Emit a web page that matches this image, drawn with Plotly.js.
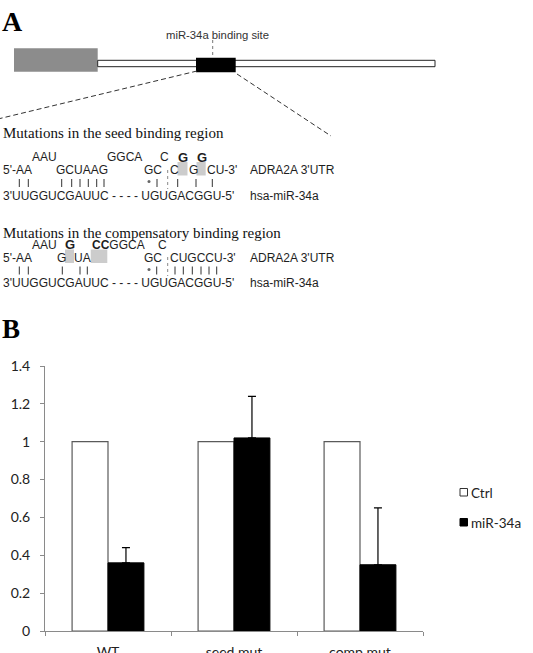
<!DOCTYPE html>
<html>
<head>
<meta charset="utf-8">
<script src="https://cdn.plot.ly/plotly-3.0.1.min.js"></script>
<style>
  html, body { margin: 0; padding: 0; background: #fff; }
  #fig { width: 533px; height: 653px; }
</style>
</head>
<body>
<div id="fig"></div>
<script>
// ---- Panel B data: relative luciferase activity ----
const categories = ['WT', 'seed mut', 'comp mut'];
const seriesNames = ['Ctrl', 'miR-34a'];
const ctrlValues = [1, 1, 1];
const mirValues = [0.36, 1.02, 0.35];
const mirErrors = [0.08, 0.22, 0.30];
const yTickValues = [0, 0.2, 0.4, 0.6, 0.8, 1, 1.2, 1.4];
const yTickLabels = ['0', '0.2', '0.4', '0.6', '0.8', '1', '1.2', '1.4'];

// ---- Panel A text: duplex of ADRA2A 3'UTR with hsa-miR-34a ----
const seedTitle = 'Mutations in the seed binding region';
const compTitle = 'Mutations in the compensatory binding region';
const siteLabel = 'miR-34a binding site';
const utrLabel = "ADRA2A 3'UTR";
const mirLabel = 'hsa-miR-34a';
const mirStrand = "3'UUGGUCGAUUC - - - - UGUGACGGU-5'";

// ---- page geometry ----
const W = 533, H = 653;
const M = { l: 45, r: 110, t: 366, b: 22 };
const PW = W - M.l - M.r, PH = H - M.t - M.b;
const px = x => (x - M.l) / PW;          // pixel column -> paper x
const py = y => (H - M.b - y) / PH;      // pixel row -> paper y

const SEQ_FONT = { family: 'Liberation Sans, Arial, sans-serif', size: 12, color: '#1e1e1e' };
const SERIF = 'Liberation Serif, Times New Roman, serif';
const CAL = 'Lato, Open Sans, sans-serif';

const annotations = [];
const shapes = [];

function label(text, x, y, font, anchor) {
  annotations.push({
    xref: 'paper', yref: 'paper', x: px(x), y: py(y),
    xanchor: anchor || 'left', yanchor: 'middle',
    showarrow: false, borderpad: 0, borderwidth: 0,
    text: text, font: Object.assign({}, SEQ_FONT, font || {})
  });
}
function rect(x0, y0, x1, y1, fill, line) {
  shapes.push({
    type: 'rect', xref: 'paper', yref: 'paper',
    x0: px(x0), x1: px(x1), y0: py(y1), y1: py(y0),
    fillcolor: fill, line: line || { width: 0 }, layer: 'above'
  });
}
function seg(x0, y0, x1, y1, line) {
  shapes.push({
    type: 'line', xref: 'paper', yref: 'paper',
    x0: px(x0), x1: px(x1), y0: py(y0), y1: py(y1),
    line: line, layer: 'above'
  });
}
function pairBars(xs, y) {
  xs.forEach(x => seg(x, y - 4, x, y + 4, { color: '#333', width: 1 }));
}
function wobble(x, y) {
  shapes.push({
    type: 'circle', xref: 'paper', yref: 'paper',
    x0: px(x - 1.5), x1: px(x + 1.5), y0: py(y + 1.5), y1: py(y - 1.5),
    fillcolor: '#666', line: { width: 0 }, layer: 'above'
  });
}

// panel letters
label('<b>A</b>', 2, 22, { family: SERIF, size: 28, color: '#000' });
label('<b>B</b>', 2, 329, { family: SERIF, size: 27, color: '#000' });

// transcript scheme
rect(14, 48.3, 97.7, 71.7, '#8c8c8c');
rect(97.7, 60.3, 435, 66.7, '#fff', { color: '#222', width: 1 });
rect(196, 57.7, 235.7, 72.3, '#000');
seg(212.7, 40, 212.7, 57.7, { color: '#777', width: 1, dash: 'dot' });
label(siteLabel, 217, 34.5, { size: 11.3, color: '#333' }, 'center');
seg(197, 71, 0, 118.5, { color: '#333', width: 1, dash: '5px,3px' });
seg(237, 74, 331, 136, { color: '#333', width: 1, dash: '5px,3px' });

// seed-region mutant duplex
label(seedTitle, 2.7, 133, { family: SERIF, size: 15, color: '#111' });
rect(177.5, 162, 187.5, 175.5, '#cccccc');
rect(196.5, 162, 205.7, 175.5, '#cccccc');
label('AAU', 31.7, 156.5);
label('GGCA', 106.7, 156.5);
label('C', 160, 157);
label('<b>G</b>', 178, 157, { size: 13 });
label('<b>G</b>', 196.5, 157, { size: 13 });
label("5'-AA", 2.7, 169.5);
label('GCUAAG', 56, 169.5);
label('GC', 143.5, 169.5);
label('C', 170, 169.5);
label('G', 188.5, 169.5);
label("CU-3'", 207, 169.5);
label(utrLabel, 250, 169.5);
pairBars([19.3, 28.3, 61.7, 71.7, 80, 88.3, 96.7, 104, 157, 177.7, 196, 212.3], 183);
wobble(149, 181.5);
seg(167.7, 170, 167.7, 189, { color: '#888', width: 1, dash: 'dot' });
label(mirStrand, 2.7, 196);
label(mirLabel, 250, 196);

// compensatory-region mutant duplex
label(compTitle, 2.7, 233, { family: SERIF, size: 15, color: '#111' });
rect(65, 249.5, 74, 263, '#cccccc');
rect(90.7, 249.5, 107.3, 263, '#cccccc');
label('AAU', 31.7, 244.5);
label('<b>G</b>', 65, 244.5, { size: 13 });
label('<b>CC</b>GGCA', 91.7, 244.5);
label('C', 158, 244.5);
label("5'-AA", 2.7, 257.5);
label('G', 56.7, 257.5);
label('UA', 74, 257.5);
label('GC', 143.5, 257.5);
label("CUGCCU-3'", 169.5, 257.5);
label(utrLabel, 250, 257.5);
pairBars([19.3, 28.3, 62.3, 80, 87.3, 156.7, 175, 183.3, 192.3, 201, 209, 216.7], 270.5);
wobble(149, 269.5);
seg(167.7, 257, 167.7, 276, { color: '#888', width: 1, dash: 'dot' });
label(mirStrand, 2.7, 283);
label(mirLabel, 250, 283);

// legend drawn beside the plot
rect(460, 488.5, 467.5, 496, '#fff', { color: '#333', width: 1 });
rect(460, 518.5, 467.5, 526, '#000', { color: '#000', width: 1 });
label(seriesNames[0], 471, 493, { family: CAL, size: 13.5, color: '#222' });
label(seriesNames[1], 471, 523, { family: CAL, size: 13.5, color: '#222' });

const traces = [
  {
    type: 'bar', name: seriesNames[0], x: categories, y: ctrlValues,
    marker: { color: '#ffffff', line: { color: '#5a5a5a', width: 1.2 } }
  },
  {
    type: 'bar', name: seriesNames[1], x: categories, y: mirValues,
    marker: { color: '#000000', line: { color: '#000000', width: 1 } },
    error_y: {
      type: 'data', array: mirErrors, arrayminus: mirErrors.map(() => 0),
      symmetric: false, color: '#000', thickness: 1.2, width: 4
    }
  }
];

const layout = {
  width: W, height: H,
  margin: M,
  paper_bgcolor: '#fff', plot_bgcolor: '#fff',
  showlegend: false,
  barmode: 'group', bargap: 0.43, bargroupgap: 0,
  xaxis: {
    type: 'category', range: [-0.5, 2.5],
    showline: true, linecolor: '#8a8a8a', linewidth: 1,
    ticks: 'outside', tickson: 'boundaries', ticklen: 4, tickcolor: '#8a8a8a',
    showgrid: false, zeroline: false,
    tickfont: { family: CAL, size: 14, color: '#222' },
    ticklabelstandoff: 8
  },
  yaxis: {
    range: [0, 1.4],
    tickvals: yTickValues, ticktext: yTickLabels,
    showline: true, linecolor: '#8a8a8a', linewidth: 1,
    ticks: 'outside', ticklen: 4, tickcolor: '#8a8a8a',
    showgrid: false, zeroline: false,
    tickfont: { family: CAL, size: 14, color: '#222' },
    ticklabelstandoff: 7
  },
  shapes: shapes,
  annotations: annotations
};

Plotly.newPlot('fig', traces, layout, { staticPlot: true, displayModeBar: false });
</script>
</body>
</html>
